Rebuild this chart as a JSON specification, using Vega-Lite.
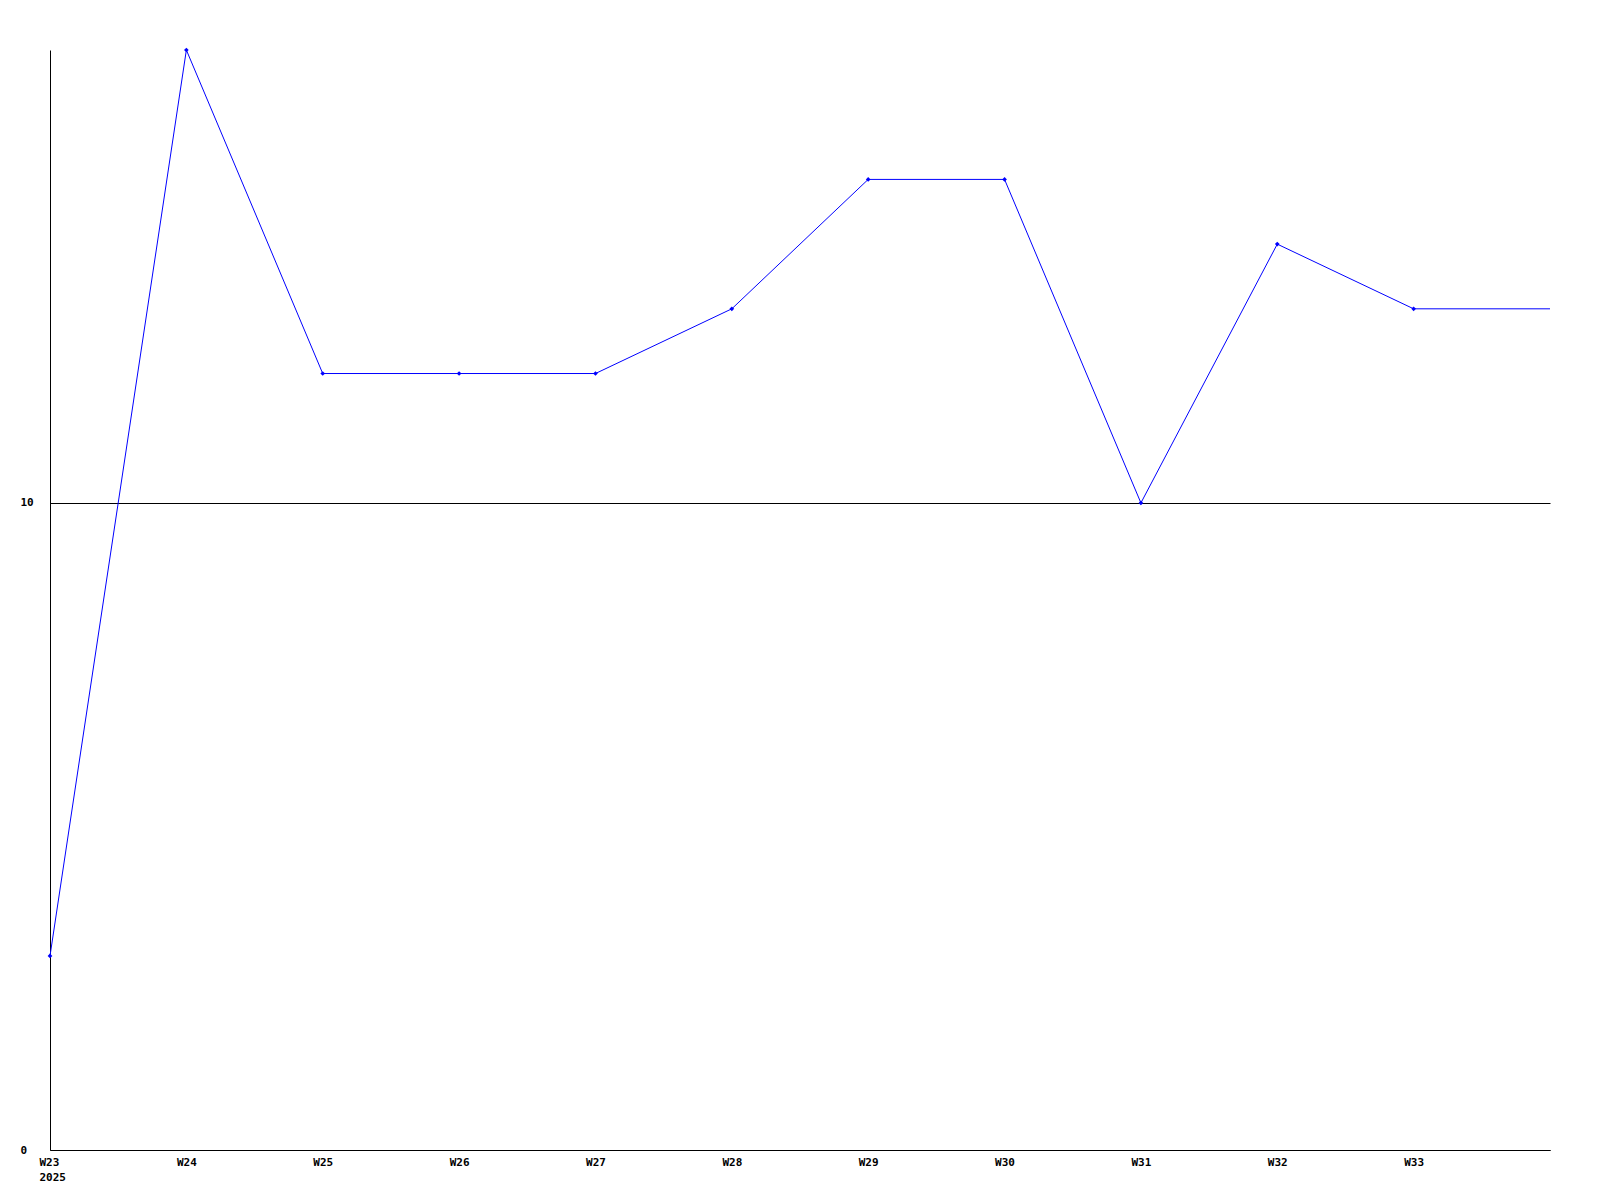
{
  "$schema": "https://vega.github.io/schema/vega-lite/v6.json",
  "autosize": "none",
  "width": 1500,
  "height": 1100,
  "padding": {"left": 50, "top": 50, "right": 50, "bottom": 50},
  "background": "white",
  "config": {"view": {"stroke": null}},
  "data": {
    "values": [
      {"week": 23, "value": 3},
      {"week": 24, "value": 17},
      {"week": 25, "value": 12},
      {"week": 26, "value": 12},
      {"week": 27, "value": 12},
      {"week": 28, "value": 13},
      {"week": 29, "value": 15},
      {"week": 30, "value": 15},
      {"week": 31, "value": 10},
      {"week": 32, "value": 14},
      {"week": 33, "value": 13},
      {"week": 34, "value": 13}
    ]
  },
  "encoding": {
    "x": {
      "field": "week",
      "type": "quantitative",
      "scale": {"domain": [23, 34], "nice": false, "zero": false},
      "axis": {
        "title": null,
        "values": [23, 24, 25, 26, 27, 28, 29, 30, 31, 32, 33],
        "labelExpr": "datum.value == 23 ? ['W23', '2025'] : 'W' + datum.value",
        "labelAlign": {"condition": {"test": "datum.value == 23", "value": "left"}, "value": "center"},
        "labelOffset": {"condition": {"test": "datum.value == 23", "value": -11}, "value": 0},
        "ticks": false,
        "grid": false,
        "domainColor": "black",
        "domainWidth": 1,
        "labelFont": "DejaVu Sans Mono",
        "labelFontWeight": "bold",
        "labelFontSize": 11,
        "labelColor": "black",
        "labelPadding": 6,
        "labelLineHeight": 15,
        "labelFlush": false,
        "labelOverlap": false
      }
    },
    "y": {
      "field": "value",
      "type": "quantitative",
      "scale": {"domain": [0, 17], "nice": false},
      "axis": {
        "title": null,
        "values": [0, 10],
        "ticks": false,
        "grid": true,
        "gridColor": "black",
        "gridOpacity": 1,
        "gridWidth": 1,
        "domainColor": "black",
        "domainWidth": 1,
        "labelFont": "DejaVu Sans Mono",
        "labelFontWeight": "bold",
        "labelFontSize": 11,
        "labelColor": "black",
        "labelAlign": "left",
        "labelPadding": 30
      }
    }
  },
  "layer": [
    {
      "mark": {"type": "line", "color": "#0000ff", "strokeWidth": 1}
    },
    {
      "transform": [{"filter": "datum.week <= 33"}],
      "mark": {"type": "point", "shape": "diamond", "filled": true, "color": "#0000ff", "size": 22, "opacity": 1}
    }
  ]
}
